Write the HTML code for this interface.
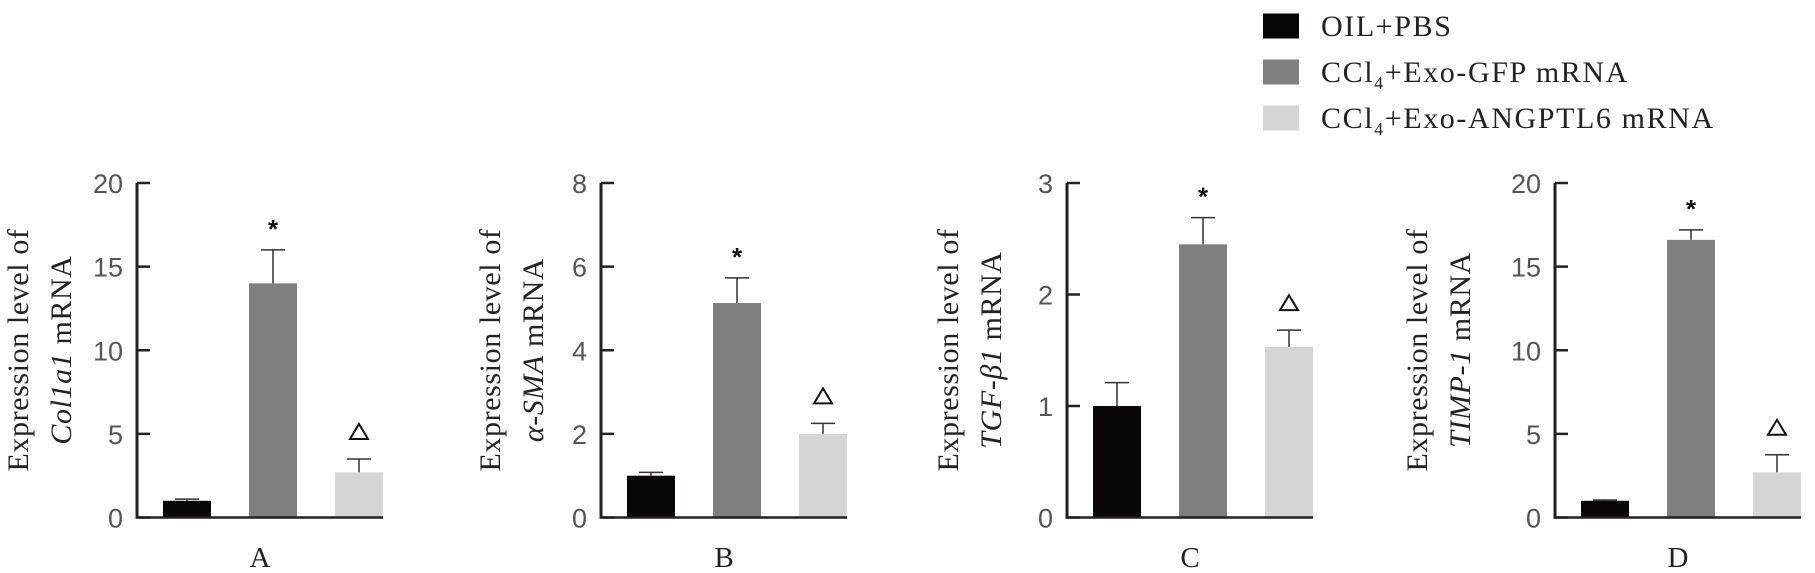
<!DOCTYPE html>
<html><head><meta charset="utf-8"><style>
html,body{margin:0;padding:0;background:#fff;}
svg{display:block;}
</style></head><body>
<svg id="chart" width="1815" height="573" viewBox="0 0 1815 573" xmlns="http://www.w3.org/2000/svg">
<g id="legend"></g>
<g id="panels"></g>
</svg>
<script>
const groups = ["OIL+PBS", "CCl4+Exo-GFP mRNA", "CCl4+Exo-ANGPTL6 mRNA"];
const colors = ["#0a0606", "#7f7f7f", "#d4d5d5"];
const panelLabels = ["A", "B", "C", "D"];
const genes = ["Col1a1", "α-SMA", "TGF-β1", "TIMP-1"];
const yMaxes = [20, 8, 3, 20];
const yTicksA = [0, 5, 10, 15, 20];
const yTicksB = [0, 2, 4, 6, 8];
const yTicksC = [0, 1, 2, 3];
const yTicksD = [0, 5, 10, 15, 20];
const meansA = [1.0, 14.0, 2.7];
const errA = [1.1, 16.0, 3.5];
const meansB = [1.0, 5.13, 2.0];
const errB = [1.08, 5.73, 2.25];
const meansC = [1.0, 2.45, 1.53];
const errC = [1.21, 2.69, 1.68];
const meansD = [1.0, 16.6, 2.7];
const errD = [1.05, 17.2, 3.75];

const NS = "http://www.w3.org/2000/svg";
function mk(tag, attrs, parent) {
  const e = document.createElementNS(NS, tag);
  for (const k in attrs) e.setAttribute(k, attrs[k]);
  parent.appendChild(e);
  return e;
}
const svg = document.getElementById("chart");
const panelsG = document.getElementById("panels");
const legendG = document.getElementById("legend");

// legend
const legY = [26, 72, 118];
groups.forEach((g, i) => {
  const r = mk("rect", {x: 1263, y: legY[i] - 12.5, width: 36, height: 25, fill: colors[i]}, legendG);
  
  
  const t = mk("text", {x: 1321, y: legY[i] + 10, "font-family": "Liberation Serif, serif", "font-size": 30, "letter-spacing": 1.6, fill: "#222"}, legendG);
  
  
  if (g.startsWith("CCl4")) {
    t.appendChild(document.createTextNode("CCl"));
    const s = mk("tspan", {"font-size": 18, dy: 7}, t); s.textContent = "4";
    const r2 = mk("tspan", {dy: -7}, t); r2.textContent = g.slice(4);
  } else t.textContent = g;
});

const axisXs = [137, 601, 1067, 1555];
const titleXs = [18, 490, 948, 1417];
const allTicks = [yTicksA, yTicksB, yTicksC, yTicksD];
const allMeans = [meansA, meansB, meansC, meansD];
const allErr = [errA, errB, errC, errD];
const yTop = 183, yZero = 517.5;
const barOff = [26, 112, 198], barW = 48;

panelLabels.forEach((lab, p) => {
  const g = mk("g", {}, panelsG);
  
  
  const ax = axisXs[p];
  const y = v => yZero - v / yMaxes[p] * (yZero - yTop);
  allMeans[p].forEach((m, i) => {
    const x0 = ax + barOff[i];
    const eb = mk("line", {x1: x0 + barW/2, x2: x0 + barW/2, y1: y(m), y2: y(allErr[p][i]), stroke: "#333", "stroke-width": 1.5}, g);
    
    
    const cap = mk("line", {x1: x0 + barW/2 - 12, x2: x0 + barW/2 + 12, y1: y(allErr[p][i]), y2: y(allErr[p][i]), stroke: "#333", "stroke-width": 1.5}, g);
    
    
    const r = mk("rect", {x: x0, y: y(m), width: barW, height: yZero - y(m), fill: colors[i]}, g);
    
    
  });
  const gx = ax + barOff[1] + barW/2;
  const st = mk("text", {x: gx, y: y(allErr[p][1]) - 12, "text-anchor": "middle", "font-family": "Liberation Sans, sans-serif", "font-size": 26, "font-weight": "bold", fill: "#111"}, g);
  st.textContent = "*";
  
  
  const lx = ax + barOff[2] + barW/2, ty = y(allErr[p][2]) - 27;
  const tri = mk("polygon", {points: `${lx-9},${ty+7} ${lx+9},${ty+7} ${lx},${ty-8}`, fill: "none", stroke: "#111", "stroke-width": 2}, g);
  
  
  const ya = mk("line", {x1: ax, x2: ax, y1: yTop, y2: yZero, stroke: "#222", "stroke-width": 3}, g);
  
  
  const xa = mk("line", {x1: ax - 1.5, x2: ax + 246, y1: yZero, y2: yZero, stroke: "#222", "stroke-width": 2.5}, g);
  
  
  allTicks[p].forEach(tv => {
    const tk = mk("line", {x1: ax, x2: ax + 13, y1: y(tv), y2: y(tv), stroke: "#222", "stroke-width": 2.5}, g);
    
    
    const tl = mk("text", {x: ax - 14, y: y(tv) + 10, "text-anchor": "end", "font-family": "Liberation Sans, sans-serif", "font-size": 27, fill: "#555"}, g);
    tl.textContent = tv;
    
    
  });
  const xl = mk("text", {x: ax + 123, y: 567, "text-anchor": "middle", "font-family": "Liberation Serif, serif", "font-size": 29, fill: "#222"}, g);
  xl.textContent = lab;
  
  
  const tx = titleXs[p], cy = 350;
  const t1 = mk("text", {x: 0, y: 0, transform: `translate(${tx + 10},${cy}) rotate(-90)`, "text-anchor": "middle", "font-family": "Liberation Serif, serif", "font-size": 30, "letter-spacing": 0.6, fill: "#222"}, g);
  t1.textContent = "Expression level of";
  
  
  const t2 = mk("text", {x: 0, y: 0, transform: `translate(${tx + 53},${cy}) rotate(-90)`, "text-anchor": "middle", "font-family": "Liberation Serif, serif", "font-size": 30, "letter-spacing": 0.6, fill: "#222"}, g);
  
  
  const it = mk("tspan", {"font-style": "italic"}, t2); it.textContent = genes[p];
  const rest = mk("tspan", {}, t2); rest.textContent = " mRNA";
});
</script>
</body></html>
